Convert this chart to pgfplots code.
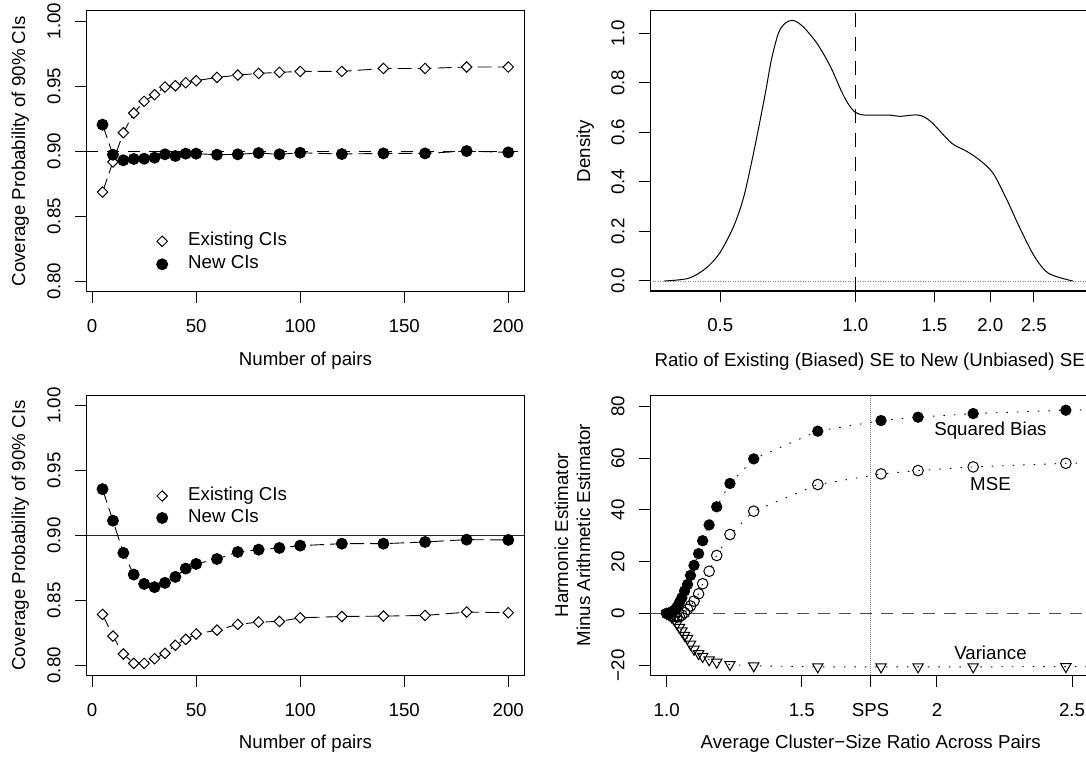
\documentclass[border=0pt]{standalone}
\usepackage{fontspec}
\setmainfont{Liberation Sans}
\usepackage{pgfplots}
\usepackage{pgfplotstable}
\pgfplotsset{compat=1.18}

\newcommand\fs{\fontsize{18.7}{22}\selectfont}

% panel 1: coverage, first design
\pgfplotstableread{
n    exist   new
5    0.8686  0.9204
10   0.8917  0.8973
15   0.9142  0.8930
20   0.9293  0.8940
25   0.9383  0.8942
30   0.9434  0.8950
35   0.9493  0.8976
40   0.9503  0.8963
45   0.9526  0.8981
50   0.9542  0.8981
60   0.9567  0.8973
70   0.9585  0.8976
80   0.9598  0.8986
90   0.9606  0.8976
100  0.9613  0.8988
120  0.9613  0.8978
140  0.9636  0.8983
160  0.9636  0.8983
180  0.9647  0.9001
200  0.9647  0.8991
}\covA

% panel 3: coverage, second design
\pgfplotstableread{
n    exist   new
5    0.8392  0.9357
10   0.8225  0.9114
15   0.8087  0.8866
20   0.8015  0.8699
25   0.8015  0.8627
30   0.8051  0.8602
35   0.8092  0.8635
40   0.8154  0.8681
45   0.8200  0.8745
50   0.8241  0.8781
60   0.8271  0.8819
70   0.8315  0.8873
80   0.8333  0.8891
90   0.8338  0.8904
100  0.8366  0.8922
120  0.8376  0.8937
140  0.8379  0.8937
160  0.8384  0.8950
180  0.8410  0.8968
200  0.8405  0.8966
}\covB

% panel 2: density of SE ratio
\pgfplotstableread{
r      d
0.375  0.000
0.425  0.011
0.464  0.051
0.498  0.112
0.535  0.219
0.564  0.340
0.595  0.529
0.628  0.744
0.650  0.892
0.674  1.000
0.698  1.040
0.726  1.051
0.763  1.027
0.820  0.960
0.880  0.865
0.928  0.771
0.962  0.717
1.000  0.680
1.051  0.669
1.190  0.669
1.255  0.664
1.384  0.669
1.473  0.643
1.639  0.556
1.760  0.526
1.889  0.489
2.028  0.435
2.178  0.327
2.338  0.206
2.511  0.098
2.696  0.031
3.053  0.000
}\dens

% panel 4: harmonic minus arithmetic
\pgfplotstableread{
x      bias   mse    var
1.000  0.0    0.0    0.0
1.009  0.2   -0.3   -0.5
1.018  0.6   -0.7   -1.3
1.028  1.3   -1.1   -2.4
1.038  2.5   -1.4   -3.9
1.047  4.2   -1.2   -5.4
1.056  6.1   -0.6   -6.7
1.066  8.7    0.3   -8.4
1.077  11.2   1.6   -9.6
1.088  14.7   2.9   -11.8
1.101  18.6   4.8   -13.8
1.118  23.1   7.6   -15.5
1.133  28.1   11.5  -16.6
1.157  34.2   16.3  -17.9
1.185  41.2   22.4  -18.8
1.234  50.2   30.5  -19.7
1.322  59.7   39.5  -20.2
1.559  70.4   49.8  -20.6
1.793  74.5   53.9  -20.6
1.930  75.8   55.2  -20.6
2.134  77.2   56.6  -20.6
2.477  78.5   58.0  -20.5
2.630  78.8   58.3  -20.5
}\harm

\pgfplotsset{
  rbox/.style={
    scale only axis, anchor=south west,
    axis line style={line width=1.1pt},
    every tick/.style={black, line width=1pt},
    tick align=outside, tick pos=left,
    major tick length=11.5pt,
    tick label style={font=\fs},
    xticklabel style={anchor=base, yshift=-29.3pt},
    yticklabel style={rotate=90, anchor=base, yshift=14.5pt},
    label style={font=\fs},
    xlabel style={anchor=base},
    ylabel style={anchor=south, inner sep=0pt, text depth=0pt},
  },
  covleg/.style={
    legend cell align=left,
    legend image code/.code={
      \path[draw=none] (0pt,0pt) -- (26pt,0pt);
      \draw[##1, only marks] plot coordinates {(0pt,0pt)};},
    legend style={draw=none, fill=none, inner sep=0pt, anchor=north west,
      row sep=6pt, nodes={inner sep=0pt, text height=13pt, text depth=4pt, font=\fs}},
  },
  exist/.style={black, line width=0.9pt, dash pattern=on 14pt off 6pt,
    mark=square*, mark size=3.7pt,
    mark options={solid, rotate=45, fill=white, line width=1pt}},
  newci/.style={black, line width=0.9pt, dash pattern=on 14pt off 6pt,
    mark=*, mark size=5.5pt, mark options={solid, fill=black}},
}

\begin{document}
\begin{tikzpicture}
\useasboundingbox (0,0) rectangle (1086pt,757pt);
\clip (0,0) rectangle (1086pt,757pt);

% ---- top left
\begin{axis}[rbox, covleg,
  at={(86.3pt,465.3pt)}, width=438.2pt, height=281pt,
  xmin=-2.8, xmax=207.8, ymin=0.792, ymax=1.008,
  xtick={0,50,100,150,200}, xticklabels={0,50,100,150,200},
  ytick={0.80,0.85,0.90,0.95,1.00}, yticklabels={0.80,0.85,0.90,0.95,1.00},
  xlabel={Number of pairs},
  ylabel={Coverage Probability of 90\% CIs},
  xlabel style={at={(axis description cs:0.5,-0.2644)}},
  ylabel style={at={(axis description cs:-0.1392,0.5)}},
  legend style={at={(axis description cs:0.1602,0.2103)}},
]
\draw[black, line width=0.9pt, dash pattern=on 12pt off 9pt]
  (axis cs:-2.8,0.9) -- (axis cs:207.8,0.9);
\addplot[exist] table[x=n, y=exist] {\covA};
\addlegendentry{Existing CIs}
\addplot[newci] table[x=n, y=new] {\covA};
\addlegendentry{New CIs}
\end{axis}

% ---- top right
\begin{axis}[rbox,
  at={(650.3pt,466pt)}, width=438.7pt, height=280.3pt,
  xmode=log, xmin=0.349, xmax=3.32, ymin=-0.0403, ymax=1.09,
  xtick={0.5,1,1.5,2,2.5}, xticklabels={0.5,1.0,1.5,2.0,2.5},
  minor xtick={},
  ytick={0,0.2,0.4,0.6,0.8,1.0}, yticklabels={0.0,0.2,0.4,0.6,0.8,1.0},
  xlabel={Ratio of Existing (Biased) SE to New (Unbiased) SE},
  ylabel={Density},
  xlabel style={at={(axis description cs:0.5,-0.2676)}},
  ylabel style={at={(axis description cs:-0.1368,0.5)}},
]
\draw[gray, line width=0.8pt, dash pattern=on 1pt off 1.5pt]
  (axis cs:0.349,0) -- (axis cs:3.32,0);
\draw[black, line width=1pt, dash pattern=on 14pt off 10pt]
  (axis cs:1,-0.0403) -- (axis cs:1,1.09);
\addplot[black, line width=1pt, smooth, no marks] table[x=r, y=d] {\dens};
\end{axis}

% ---- bottom left
\begin{axis}[rbox, covleg,
  at={(86.3pt,81.3pt)}, width=438.2pt, height=280.4pt,
  xmin=-2.8, xmax=207.8, ymin=0.792, ymax=1.008,
  xtick={0,50,100,150,200}, xticklabels={0,50,100,150,200},
  ytick={0.80,0.85,0.90,0.95,1.00}, yticklabels={0.80,0.85,0.90,0.95,1.00},
  xlabel={Number of pairs},
  ylabel={Coverage Probability of 90\% CIs},
  xlabel style={at={(axis description cs:0.5,-0.2596)}},
  ylabel style={at={(axis description cs:-0.1392,0.5)}},
  legend style={at={(axis description cs:0.1602,0.6719)}, row sep=5pt},
]
\draw[black!85, line width=1.2pt] (axis cs:-2.8,0.9) -- (axis cs:207.8,0.9);
\addplot[exist] table[x=n, y=exist] {\covB};
\addlegendentry{Existing CIs}
\addplot[newci] table[x=n, y=new] {\covB};
\addlegendentry{New CIs}
\end{axis}

% ---- bottom right
\begin{axis}[rbox,
  at={(650.3pt,81.7pt)}, width=440.7pt, height=280pt,
  xmin=0.9393, xmax=2.570, ymin=-23.86, ymax=84.25,
  xtick={1,1.5,1.754,2,2.5}, xticklabels={1.0,1.5,SPS,2,2.5},
  ytick={-20,0,20,40,60,80}, yticklabels={−20,0,20,40,60,80},
  xlabel={Average Cluster−Size Ratio Across Pairs},
  ylabel={Harmonic Estimator\\Minus Arithmetic Estimator},
  xlabel style={at={(axis description cs:0.5,-0.2614)}},
  ylabel style={at={(axis description cs:-0.1362,0.5)}, align=center},
]
\draw[black!70, line width=1pt, dash pattern=on 12pt off 9pt]
  (axis cs:0.9393,0) -- (axis cs:2.57,0);
\draw[gray, line width=0.8pt, dash pattern=on 1pt off 1pt]
  (axis cs:1.754,-23.86) -- (axis cs:1.754,84.25);
\addplot[black, line width=0.9pt, dash pattern=on 1.5pt off 9pt,
  mark=*, mark size=5.2pt, mark options={solid}] table[x=x, y=bias] {\harm};
\addplot[black, line width=0.9pt, dash pattern=on 1.5pt off 9pt,
  mark=o, mark size=5.3pt, mark options={solid, line width=1pt}] table[x=x, y=mse] {\harm};
\addplot[black, line width=0.9pt, dash pattern=on 1.5pt off 9pt,
  mark=triangle, mark size=6pt, mark options={solid, rotate=180, line width=1pt}] table[x=x, y=var] {\harm};
\node[font=\fs] at (axis cs:2.198,70.6) {Squared Bias};
\node[font=\fs] at (axis cs:2.198,50.0) {MSE};
\node[font=\fs] at (axis cs:2.198,-15.1) {Variance};
\end{axis}
\end{tikzpicture}
\end{document}
